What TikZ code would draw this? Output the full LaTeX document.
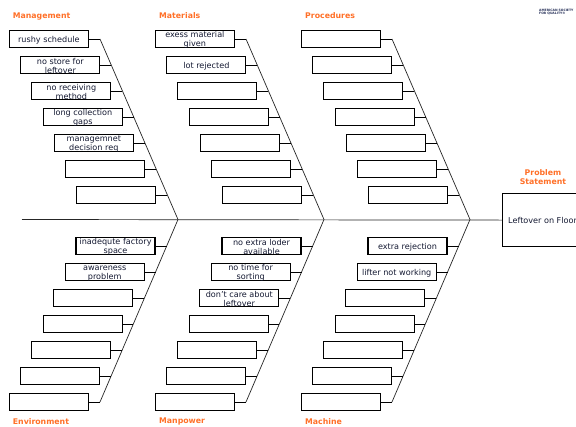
\documentclass[tikz,border=0pt]{standalone}
\usepackage{fontspec}
\setmainfont{DejaVu Sans}
\usetikzlibrary{calc}
\definecolor{lbl}{RGB}{255,112,40}
\definecolor{txt}{RGB}{20,25,50}
\definecolor{asq}{RGB}{40,50,90}
\newcommand\drawbone[4]{%
  \coordinate (#1top) at (100+#2,39);
  \coordinate (#1apex) at (178+#2,219.5);
  \coordinate (#1bot) at (100+#2,402);
  \draw[bone] (#1top) -- (#1apex) -- (#1bot);
  \foreach \txt [count=\k from 0] in {#3}{%
    \pgfmathsetmacro\tpos{26*\k/180.5}%
    \ifodd\k \def\lw{0.75}\else\def\lw{1.25}\fi
    \coordinate (#1ub\k) at ($(#1top)!\tpos!(#1apex)$);
    \node[cbox, line width=\lw pt, anchor=east] (#1u\k) at ($(#1ub\k)+(-11,0)$) {};
    \node[btxt] (#1ut\k) at ($(#1u\k.center)+(0,1.1)$) {\txt};
    \draw[tick] (#1u\k.east) -- (#1ub\k);
  }
  \foreach \txt [count=\k from 0] in {#4}{%
    \pgfmathsetmacro\tpos{(26.5+26*\k)/182.5}%
    \ifodd\k \def\lw{0.75}\else\def\lw{1.25}\fi
    \coordinate (#1lb\k) at ($(#1apex)!\tpos!(#1bot)$);
    \node[cbox, line width=\lw pt, anchor=east] (#1l\k) at ($(#1lb\k)+(-11,0)$) {};
    \node[btxt] (#1lt\k) at ($(#1l\k.center)+(0,1.1)$) {\txt};
    \draw[tick] (#1l\k.east) -- (#1lb\k);
  }
}
\begin{document}
\begin{tikzpicture}[x=1pt,y=-1pt,
  bone/.style={draw=black!85, line width=0.7pt},
  tick/.style={draw=black, line width=0.9pt},
  cbox/.style={draw=black, minimum width=79pt, minimum height=17pt, inner sep=0pt},
  btxt/.style={inner sep=0pt, align=center, font=\fontsize{8.1}{9}\selectfont, text=txt},
  cat/.style={font=\fontsize{7.8}{9}\selectfont\bfseries, text=lbl, anchor=west, inner sep=0pt}]
\useasboundingbox (0,0) rectangle (576,426);
\fill[white] (0,0) rectangle (576,426);

\drawbone{M}{0}{{rushy schedule},{no store for\\leftover},{no receiving\\method},{long collection\\gaps},{managemnet\\decision req},{},{}}%
  {{inadequte factory\\space},{awareness\\problem},{},{},{},{},{}}
\drawbone{T}{146}{{exess material\\given},{lot rejected},{},{},{},{},{}}%
  {{no extra loder\\available},{no time for\\sorting},{don't care about\\leftover},{},{},{},{}}
\drawbone{P}{292}{{},{},{},{},{},{},{}}%
  {{extra rejection},{lifter not working},{},{},{},{},{}}

\node[cat] (lM) at (12.7,16) {Management};
\node[cat] (lT) at (159,16) {Materials};
\node[cat] (lP) at (305,16) {Procedures};
\node[cat] (lE) at (12.7,421.5) {Environment};
\node[cat] (lW) at (159,421.5) {Manpower};
\node[cat] (lC) at (305,421.5) {Machine};

\node[draw, line width=1.2pt, minimum width=110pt, minimum height=53pt, anchor=north west, inner sep=0pt] (prob) at (502,193) {};
\node[btxt, anchor=west] (probtxt) at (508,220.5) {Leftover on Floor};
\node[cat, anchor=center, align=center] (probl) at (543,177) {Problem\\Statement};
\coordinate (spst) at (22,219.5);
\draw[bone] (spst) -- (prob.west);

\node[anchor=north west, inner sep=0pt, align=left, font=\fontsize{3.1}{3.6}\selectfont\bfseries, text=asq] (asql) at (539,8.5) {AMERICAN SOCIETY\\FOR QUALITY®};
\end{tikzpicture}
\end{document}
